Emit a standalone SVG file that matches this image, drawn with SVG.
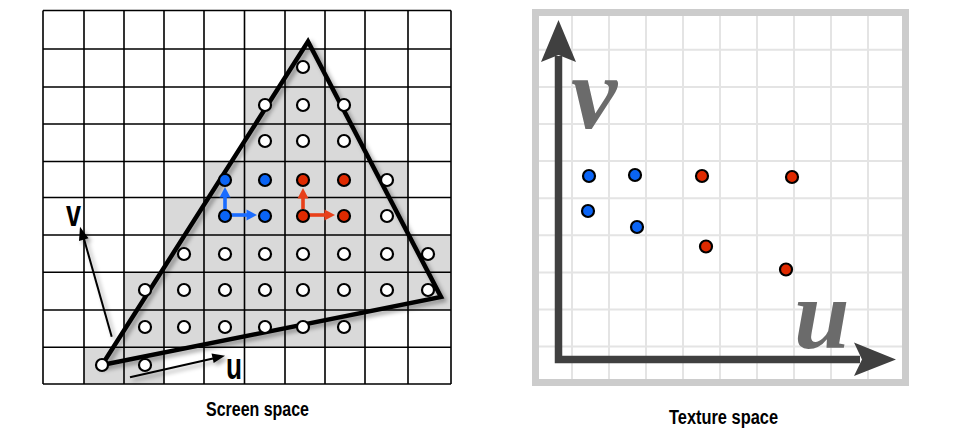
<svg xmlns="http://www.w3.org/2000/svg" width="956" height="437" viewBox="0 0 956 437">
<style>
.cell{fill:#d9d9d9}
.grid{fill:none;stroke:#000;stroke-width:1.6}
.smp{fill:#fff;stroke:#000;stroke-width:2.2}
.b{fill:#0a64f5;stroke:#000;stroke-width:2.2}
.r{fill:#e02a00;stroke:#000;stroke-width:2.2}
.lbl{font-family:"Liberation Sans",Arial,sans-serif;font-weight:bold;fill:#000}
.tex{font-family:"Liberation Serif","Times New Roman",serif;font-weight:bold;font-style:italic;fill:#6b6b6b}
.tgrid{fill:none;stroke:#e4e4e4;stroke-width:2}
</style>
<defs>
<filter id="sh" x="-20%" y="-20%" width="140%" height="140%">
<feDropShadow dx="3" dy="3" stdDeviation="2" flood-color="#000" flood-opacity="0.35"/>
</filter>
</defs>
<rect width="956" height="437" fill="#fff"/>
<g id="screen-grid">
<path class="cell" d="M285,49H325V87H285Z M244.5,87H365V161.5H244.5Z M204,161.5H408V197.5H204Z M164,197.5H408V235H164Z M164,235H451V272.3H164Z M124,272.3H451V310H124Z M124,310H365V347.3H124Z M84,347.3H164V384H84Z"/>
<path class="grid" d="M43,10.5V384 M84,10.5V384 M124,10.5V384 M164,10.5V384 M204,10.5V384 M244.5,10.5V384 M285,10.5V384 M325,10.5V384 M365,10.5V384 M408,10.5V384 M451,10.5V384 M43,10.5H451 M43,49H451 M43,87H451 M43,124H451 M43,161.5H451 M43,197.5H451 M43,235H451 M43,272.3H451 M43,310H451 M43,347.3H451 M43,384H451"/>
</g>
<g id="triangle">
<polygon points="102,365 308,41.5 441,297" fill="none" stroke="#000" stroke-width="4.5" stroke-linejoin="miter" filter="url(#sh)"/>
</g>
<g id="connectors">
<g filter="url(#sh)">
<line x1="111.7" y1="336.7" x2="84" y2="239" stroke="#000" stroke-width="2"/>
<polygon points="80,226.7 79,241 88.5,238.3" fill="#000"/>
<line x1="130" y1="377.3" x2="213" y2="358.5" stroke="#000" stroke-width="2"/>
<polygon points="225,355.7 211.5,353.5 213.7,363" fill="#000"/>
</g>
<g fill="#1a6cff" stroke="none">
<rect x="223.2" y="196" width="3.6" height="13"/>
<polygon points="225,187 219.5,197.5 230.5,197.5"/>
<rect x="231" y="213.2" width="16" height="3.6"/>
<polygon points="257,215 246.5,209.5 246.5,220.5"/>
</g>
<g fill="#e8401a" stroke="none">
<rect x="301.2" y="197" width="3.6" height="12"/>
<polygon points="303,188 297.5,198.5 308.5,198.5"/>
<rect x="309" y="213.2" width="16" height="3.6"/>
<polygon points="335,215 324.5,209.5 324.5,220.5"/>
</g>
</g>
<g id="samples">
<circle class="smp" cx="303" cy="67" r="6"/>
<circle class="smp" cx="265" cy="105" r="6"/><circle class="smp" cx="303" cy="105" r="6"/><circle class="smp" cx="344" cy="105" r="6"/>
<circle class="smp" cx="265" cy="141" r="6"/><circle class="smp" cx="303" cy="141" r="6"/><circle class="smp" cx="344" cy="141" r="6"/>
<circle class="b" cx="225" cy="180" r="6"/><circle class="b" cx="265" cy="180" r="6"/><circle class="r" cx="303" cy="180" r="6"/><circle class="r" cx="344" cy="180" r="6"/><circle class="smp" cx="387" cy="180" r="6"/>
<circle class="b" cx="225" cy="216" r="6"/><circle class="b" cx="265" cy="216" r="6"/><circle class="r" cx="303" cy="216" r="6"/><circle class="r" cx="344" cy="216" r="6"/><circle class="smp" cx="387" cy="216" r="6"/>
<circle class="smp" cx="184" cy="254" r="6"/><circle class="smp" cx="225" cy="254" r="6"/><circle class="smp" cx="265" cy="254" r="6"/><circle class="smp" cx="303" cy="254" r="6"/><circle class="smp" cx="344" cy="254" r="6"/><circle class="smp" cx="387" cy="254" r="6"/><circle class="smp" cx="428" cy="254" r="6"/>
<circle class="smp" cx="145" cy="290" r="6"/><circle class="smp" cx="184" cy="290" r="6"/><circle class="smp" cx="225" cy="290" r="6"/><circle class="smp" cx="265" cy="290" r="6"/><circle class="smp" cx="303" cy="290" r="6"/><circle class="smp" cx="344" cy="290" r="6"/><circle class="smp" cx="387" cy="290" r="6"/><circle class="smp" cx="428" cy="290" r="6"/>
<circle class="smp" cx="145" cy="327" r="6"/><circle class="smp" cx="184" cy="327" r="6"/><circle class="smp" cx="225" cy="327" r="6"/><circle class="smp" cx="265" cy="327" r="6"/><circle class="smp" cx="303" cy="327" r="6"/><circle class="smp" cx="344" cy="327" r="6"/>
<circle class="smp" cx="102" cy="365" r="6"/><circle class="smp" cx="145" cy="365" r="6"/>
</g>
<g id="screen-labels">
<text class="lbl" x="66" y="226" font-size="36" textLength="15" lengthAdjust="spacingAndGlyphs">v</text>
<text class="lbl" x="226" y="379" font-size="36" textLength="16" lengthAdjust="spacingAndGlyphs">u</text>
<text class="lbl" x="206" y="415.5" font-size="20" textLength="103" lengthAdjust="spacingAndGlyphs">Screen space</text>
</g>
<g id="texture-panel">
<path class="tgrid" d="M572,16V379 M609,16V379 M646,16V379 M683,16V379 M720,16V379 M757,16V379 M794,16V379 M831,16V379 M868,16V379 M539,49.8H902 M539,86.9H902 M539,124H902 M539,161.1H902 M539,198.2H902 M539,235.3H902 M539,272.4H902 M539,309.5H902 M539,346.6H902"/>
<rect x="535.5" y="12.5" width="370" height="370" fill="none" stroke="#cccccc" stroke-width="7"/>
</g>
<g id="texture-axes">
<path d="M558.5,56V359.5H860" fill="none" stroke="#404040" stroke-width="7.5" stroke-linejoin="miter"/>
<polygon points="558.5,20 576,62 558.5,55 541,62" fill="#404040"/>
<polygon points="896,359.5 854,342.5 862,359.5 854,376" fill="#404040"/>
<text class="tex" x="571" y="128" font-size="104">v</text>
<text class="tex" x="794" y="348" font-size="100">u</text>
</g>
<g id="texture-samples">
<circle class="b" cx="589" cy="176" r="6"/><circle class="b" cx="635" cy="175" r="6"/><circle class="b" cx="588" cy="211" r="6"/><circle class="b" cx="637" cy="227" r="6"/>
<circle class="r" cx="702" cy="176" r="6"/><circle class="r" cx="792" cy="177" r="6"/><circle class="r" cx="706" cy="246.5" r="6"/><circle class="r" cx="786" cy="269.5" r="6"/>
</g>
<g id="texture-label">
<text class="lbl" x="669" y="423.5" font-size="20" textLength="109" lengthAdjust="spacingAndGlyphs">Texture space</text>
</g>
</svg>
